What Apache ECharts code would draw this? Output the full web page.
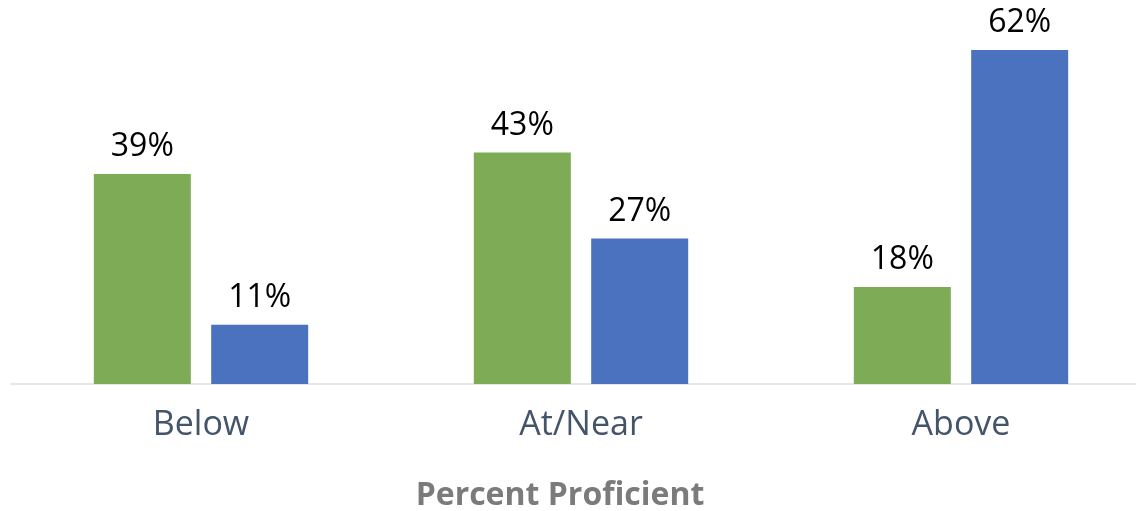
<!DOCTYPE html>
<html><head><meta charset="utf-8">
<script src="https://cdn.jsdelivr.net/npm/echarts@6/dist/echarts.min.js"></script>
<style>html,body{margin:0;padding:0;background:#fff;overflow:hidden}#c{width:1160px;height:511px}</style>
</head><body><div id="c"></div>
<script>
const categories = ['Below', 'At/Near', 'Above'];
const greenValues = [39, 43, 18];
const blueValues = [11, 27, 62];
const axisTitle = 'Percent Proficient';

const chart = echarts.init(document.getElementById('c'));
const labelStyle = {show: true, position: 'top', distance: 11, formatter: '{c}%', color: '#000', fontSize: 32, fontFamily: 'Open Sans'};
chart.setOption({
  animation: false,
  grid: {left: 11, width: 1140, top: 7, bottom: 127, containLabel: false},
  xAxis: {
    type: 'category', data: categories,
    axisLine: {lineStyle: {color: '#e6e6e6', width: 2}},
    axisTick: {show: false},
    axisLabel: {color: '#44546a', fontSize: 34, fontFamily: 'Open Sans', margin: 24}
  },
  yAxis: {type: 'value', min: 0, max: 70, show: false, splitLine: {show: false}},
  series: [
    {type: 'bar', data: greenValues, itemStyle: {color: '#7eab55'}, barWidth: 97, barGap: '21%', label: labelStyle},
    {type: 'bar', data: blueValues, itemStyle: {color: '#4a72bf'}, barWidth: 97, label: labelStyle}
  ],
  graphic: [{
    type: 'text', x: 560, y: 496,
    style: {text: axisTitle, fill: '#7b7b7b', fontSize: 32, fontWeight: 'bold', fontFamily: 'Open Sans', textAlign: 'center', textVerticalAlign: 'middle'}
  }]
});
</script></body></html>
